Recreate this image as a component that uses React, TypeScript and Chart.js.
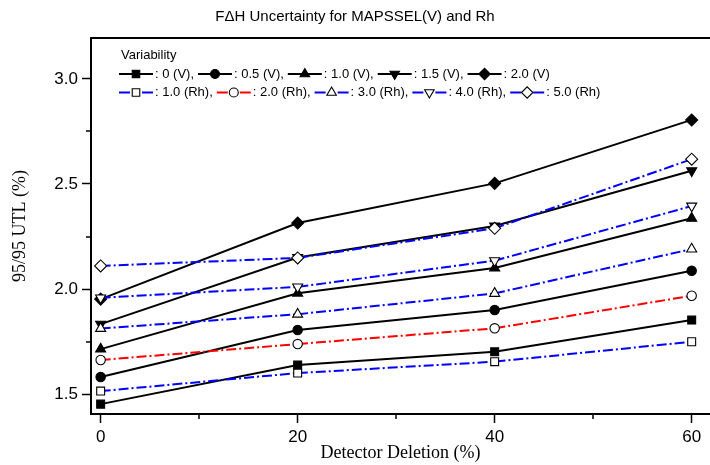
import React, { useEffect, useRef } from 'react';
import { Chart, registerables } from 'chart.js';
import { drawPoint } from 'chart.js/helpers';

Chart.register(...registerables);

// ---- data ----
const detectorDeletion = [0, 20, 40, 60];
const xMajorTicks = [0, 20, 40, 60];
const xMinorTicks = [10, 30, 50];
const yMajorTicks = [1.5, 2.0, 2.5, 3.0];
const yMinorTicks = [1.75, 2.25, 2.75];

const v00 = [1.452, 1.638, 1.701, 1.852];
const v05 = [1.581, 1.805, 1.9, 2.087];
const v10 = [1.714, 1.98, 2.1, 2.337];
const v15 = [1.833, 2.15, 2.3, 2.563];
const v20 = [1.952, 2.314, 2.503, 2.805];
const rh10 = [1.514, 1.6, 1.654, 1.749];
const rh20 = [1.662, 1.738, 1.813, 1.968];
const rh30 = [1.812, 1.88, 1.979, 2.19];
const rh40 = [1.958, 2.01, 2.135, 2.395];
const rh50 = [2.11, 2.148, 2.289, 2.618];

const vLabels = [': 0 (V),', ': 0.5 (V),', ': 1.0 (V),', ': 1.5 (V),', ': 2.0 (V)'];
const rhLabels = [': 1.0 (Rh),', ': 2.0 (Rh),', ': 3.0 (Rh),', ': 4.0 (Rh),', ': 5.0 (Rh)'];

const titleText = 'F\u0394H Uncertainty for MAPSSEL(V) and Rh';
const xTitle = 'Detector Deletion (%)';
const yTitle = '95/95 UTL (%)';
const legendTitle = 'Variability';

const SANS = '"Liberation Sans", Arial, sans-serif';
const SERIF = '"Liberation Serif", "Times New Roman", serif';
const DASHDOT = [10, 3, 2, 3];

type Marker = { style: string; rotation: number; filled: boolean; radius: number };
const mSquare = (filled: boolean): Marker => ({ style: 'rect', rotation: 0, filled, radius: 5.6 });
const mCircle = (filled: boolean): Marker => ({ style: 'circle', rotation: 0, filled, radius: 4.7 });
const mUp = (filled: boolean): Marker => ({ style: 'triangle', rotation: 0, filled, radius: 5.8 });
const mDown = (filled: boolean): Marker => ({ style: 'triangle', rotation: 180, filled, radius: 5.8 });
const mDiamond = (filled: boolean): Marker => ({ style: 'rectRot', rotation: 0, filled, radius: 6 });

function makeSet(label: string, values: number[], color: string, dashed: boolean, m: Marker, order: number) {
  return {
    label,
    data: detectorDeletion.map((x, i) => ({ x, y: values[i] })),
    borderColor: color,
    borderWidth: 2,
    borderDash: dashed ? DASHDOT : [],
    pointStyle: m.style,
    pointRotation: m.rotation,
    pointRadius: m.radius,
    pointBackgroundColor: m.filled ? '#000000' : '#ffffff',
    pointBorderColor: '#000000',
    pointBorderWidth: 1.1,
    tension: 0,
    fill: false,
    clip: false,
    order,
  };
}

const legendPlugin = {
  id: 'customLegend',
  afterDraw(chart: any) {
    const ctx = chart.ctx;
    ctx.save();
    ctx.font = '13px ' + SANS;
    ctx.fillStyle = '#000';
    ctx.textBaseline = 'middle';
    ctx.textAlign = 'left';
    ctx.fillText(legendTitle, 121, 55);
    const rows = [
      { idx: [0, 1, 2, 3, 4], labels: vLabels, y: 74 },
      { idx: [5, 6, 7, 8, 9], labels: rhLabels, y: 92.5 },
    ];
    rows.forEach((row) => {
      let x = 119;
      row.idx.forEach((di, k) => {
        const ds = chart.data.datasets[di];
        const dashed = ds.borderDash && ds.borderDash.length > 0;
        ctx.setLineDash([]);
        ctx.strokeStyle = ds.borderColor;
        ctx.lineWidth = 2;
        ctx.beginPath();
        if (dashed) {
          ctx.moveTo(x, row.y);
          ctx.lineTo(x + 11, row.y);
          ctx.moveTo(x + 23, row.y);
          ctx.lineTo(x + 34, row.y);
        } else {
          ctx.moveTo(x, row.y);
          ctx.lineTo(x + 34, row.y);
        }
        ctx.stroke();
        ctx.fillStyle = ds.pointBackgroundColor;
        ctx.strokeStyle = ds.pointBorderColor;
        ctx.lineWidth = ds.pointBorderWidth;
        drawPoint(
          ctx,
          { pointStyle: ds.pointStyle, radius: ds.pointRadius * 0.95, rotation: ds.pointRotation, borderWidth: ds.pointBorderWidth },
          x + 17,
          row.y
        );
        ctx.fillStyle = '#000';
        const label = row.labels[k];
        ctx.fillText(label, x + 36, row.y);
        x += 36 + ctx.measureText(label).width + 4;
      });
    });
    ctx.restore();
  },
};

const framePlugin = {
  id: 'frameAndMinorTicks',
  afterDraw(chart: any) {
    const ctx = chart.ctx;
    const { left, right, top, bottom } = chart.chartArea;
    const xs = chart.scales.x;
    const ys = chart.scales.y;
    ctx.save();
    ctx.strokeStyle = '#000';
    ctx.lineWidth = 2;
    ctx.beginPath();
    ctx.moveTo(left - 1, top);
    ctx.lineTo(right + 2, top);
    ctx.stroke();
    ctx.lineWidth = 1.5;
    ctx.beginPath();
    xMinorTicks.forEach((v) => {
      const px = Math.round(xs.getPixelForValue(v));
      ctx.moveTo(px, bottom);
      ctx.lineTo(px, bottom + 5);
    });
    yMinorTicks.forEach((v) => {
      const py = Math.round(ys.getPixelForValue(v));
      ctx.moveTo(left, py);
      ctx.lineTo(left - 5, py);
    });
    ctx.stroke();
    ctx.restore();
  },
};

export default function App() {
  const canvasRef = useRef<HTMLCanvasElement | null>(null);

  useEffect(() => {
    if (!canvasRef.current) return;
    const datasets = [
      makeSet('0 (V)', v00, '#000000', false, mSquare(true), 1),
      makeSet('0.5 (V)', v05, '#000000', false, mCircle(true), 1),
      makeSet('1.0 (V)', v10, '#000000', false, mUp(true), 1),
      makeSet('1.5 (V)', v15, '#000000', false, mDown(true), 1),
      makeSet('2.0 (V)', v20, '#000000', false, mDiamond(true), 1),
      makeSet('1.0 (Rh)', rh10, '#0000ff', true, mSquare(false), 0),
      makeSet('2.0 (Rh)', rh20, '#ff0000', true, mCircle(false), 0),
      makeSet('3.0 (Rh)', rh30, '#0000ff', true, mUp(false), 0),
      makeSet('4.0 (Rh)', rh40, '#0000ff', true, mDown(false), 0),
      makeSet('5.0 (Rh)', rh50, '#0000ff', true, mDiamond(false), 0),
    ];
    const chart = new Chart(canvasRef.current, {
      type: 'line',
      data: { datasets: datasets as any },
      plugins: [framePlugin, legendPlugin],
      options: {
        animation: false,
        responsive: false,
        devicePixelRatio: 1,
        layout: { padding: 0, autoPadding: false },
        plugins: {
          legend: { display: false },
          tooltip: { enabled: false },
          title: {
            display: true,
            text: titleText,
            color: '#000',
            font: { family: SANS, size: 15, weight: 'normal' },
            padding: { top: 8, bottom: 12 },
          },
        },
        scales: {
          x: {
            type: 'linear',
            min: -0.98,
            max: 61.86,
            afterBuildTicks: (scale: any) => {
              scale.ticks = xMajorTicks.map((v) => ({ value: v }));
            },
            afterFit: (scale: any) => {
              scale.height = 51;
              scale.paddingLeft = 0;
              scale.paddingRight = 0;
            },
            ticks: {
              color: '#000',
              font: { family: SANS, size: 17 },
              padding: 4.5,
              maxRotation: 0,
              autoSkip: false,
              callback: (v: any) => String(v),
            },
            grid: {
              drawOnChartArea: false,
              drawTicks: true,
              tickLength: 9,
              tickColor: '#000',
              tickWidth: 1.5,
            },
            border: { display: true, color: '#000', width: 2 },
            title: {
              display: true,
              text: xTitle,
              color: '#000',
              font: { family: SERIF, size: 18 },
              padding: { top: 0, bottom: 1 },
            },
          },
          y: {
            type: 'linear',
            min: 1.405,
            max: 3.195,
            afterBuildTicks: (scale: any) => {
              scale.ticks = yMajorTicks.map((v) => ({ value: v }));
            },
            afterFit: (scale: any) => {
              scale.width = 91;
              scale.paddingTop = 0;
              scale.paddingBottom = 0;
            },
            ticks: {
              color: '#000',
              font: { family: SANS, size: 17 },
              padding: 4,
              autoSkip: false,
              callback: (v: any) => Number(v).toFixed(1),
            },
            grid: {
              drawOnChartArea: false,
              drawTicks: true,
              tickLength: 9,
              tickColor: '#000',
              tickWidth: 1.5,
            },
            border: { display: true, color: '#000', width: 2 },
            title: {
              display: true,
              text: yTitle,
              color: '#000',
              font: { family: SERIF, size: 18 },
              padding: { top: 9, bottom: 0 },
            },
          },
        },
      } as any,
    });
    return () => chart.destroy();
  }, []);

  return (
    <div style={{ position: 'absolute', left: 0, top: 0, width: 710, height: 465, background: '#ffffff' }}>
      <canvas ref={canvasRef} width={710} height={465} style={{ display: 'block' }} />
    </div>
  );
}
